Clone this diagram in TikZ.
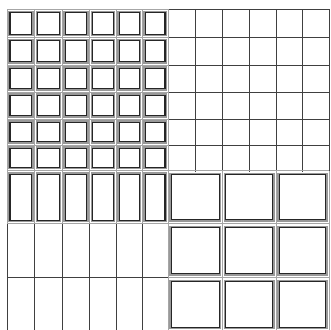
\documentclass[tikz,border=0pt]{standalone}
\begin{document}
\begin{tikzpicture}[x=1pt,y=-1pt,
  thin grid/.style={draw=black!75,line width=0.9pt},
  soft grid/.style={draw=black!35,line width=1pt},
  box outer/.style={draw=black!40,line width=1.5pt,fill=white},
  box inner/.style={draw=black!85,line width=1.1pt}]
\useasboundingbox (0,0) rectangle (331,329);
\fill[white] (0,0) rectangle (331,329);
% column and row dividers
\def\XL{7,34.8,62.3,89.8,116.3,142.3,168}
\def\XR{168,195,222.5,249,276,302.5,329}
\def\YT{9.5,37.5,65,92,119,145,170.5}
% ---------- top-right thin grid ----------
\foreach \x in \XR {\draw[thin grid] (\x,9.5) -- (\x,172);}
\foreach \y in \YT {\draw[thin grid] (168,\y) -- (329,\y);}
% ---------- bottom-left thin grid ----------
\foreach \x in \XL {\draw[thin grid] (\x,223.5) -- (\x,331);}
\foreach \y in {223.5,277.5} {\draw[thin grid] (7,\y) -- (168,\y);}
% ---------- soft grid behind the boxes ----------
\foreach \x in \XL {\draw[soft grid] (\x,9.5) -- (\x,223.5);}
\foreach \y in {9.5,37.5,65,92,119,145,170.5,223.5} {\draw[soft grid] (7,\y) -- (168,\y);}
\foreach \x in {168,222.5,276,329} {\draw[soft grid] (\x,170.5) -- (\x,331);}
\foreach \y in {170.5,223.5,277.5} {\draw[soft grid] (168,\y) -- (329,\y);}
% ---------- top-left 6x6 small boxes ----------
\foreach \xa/\xb in {7/34.8,34.8/62.3,62.3/89.8,89.8/116.3,116.3/142.3,142.3/168}{
  \foreach \ya/\yb in {9.5/37.5,37.5/65,65/92,92/119,119/145,145/170.5}{
    \draw[box outer] (\xa+1.8,\ya+2.2) rectangle (\xb-1.8,\yb-2.2);
    \draw[box inner] (\xa+3,\ya+3.4) rectangle (\xb-3,\yb-3.4);
  }
  % tall boxes
  \draw[box outer] (\xa+1.8,170.5+2.4) rectangle (\xb-1.8,223.5-2.2);
  \draw[box inner] (\xa+3,170.5+3.6) rectangle (\xb-3,223.5-3.4);
}
% ---------- bottom-right 3x3 large boxes ----------
\foreach \xa/\xb in {168/222.5,222.5/276,276/329}{
  \foreach \ya/\yb in {170.5/223.5,223.5/277.5,277.5/331}{
    \draw[box outer] (\xa+2,\ya+3) rectangle (\xb-2,\yb-2.4);
    \draw[box inner] (\xa+3.2,\ya+4.2) rectangle (\xb-3.2,\yb-3.6);
  }
}
\end{tikzpicture}
\end{document}
